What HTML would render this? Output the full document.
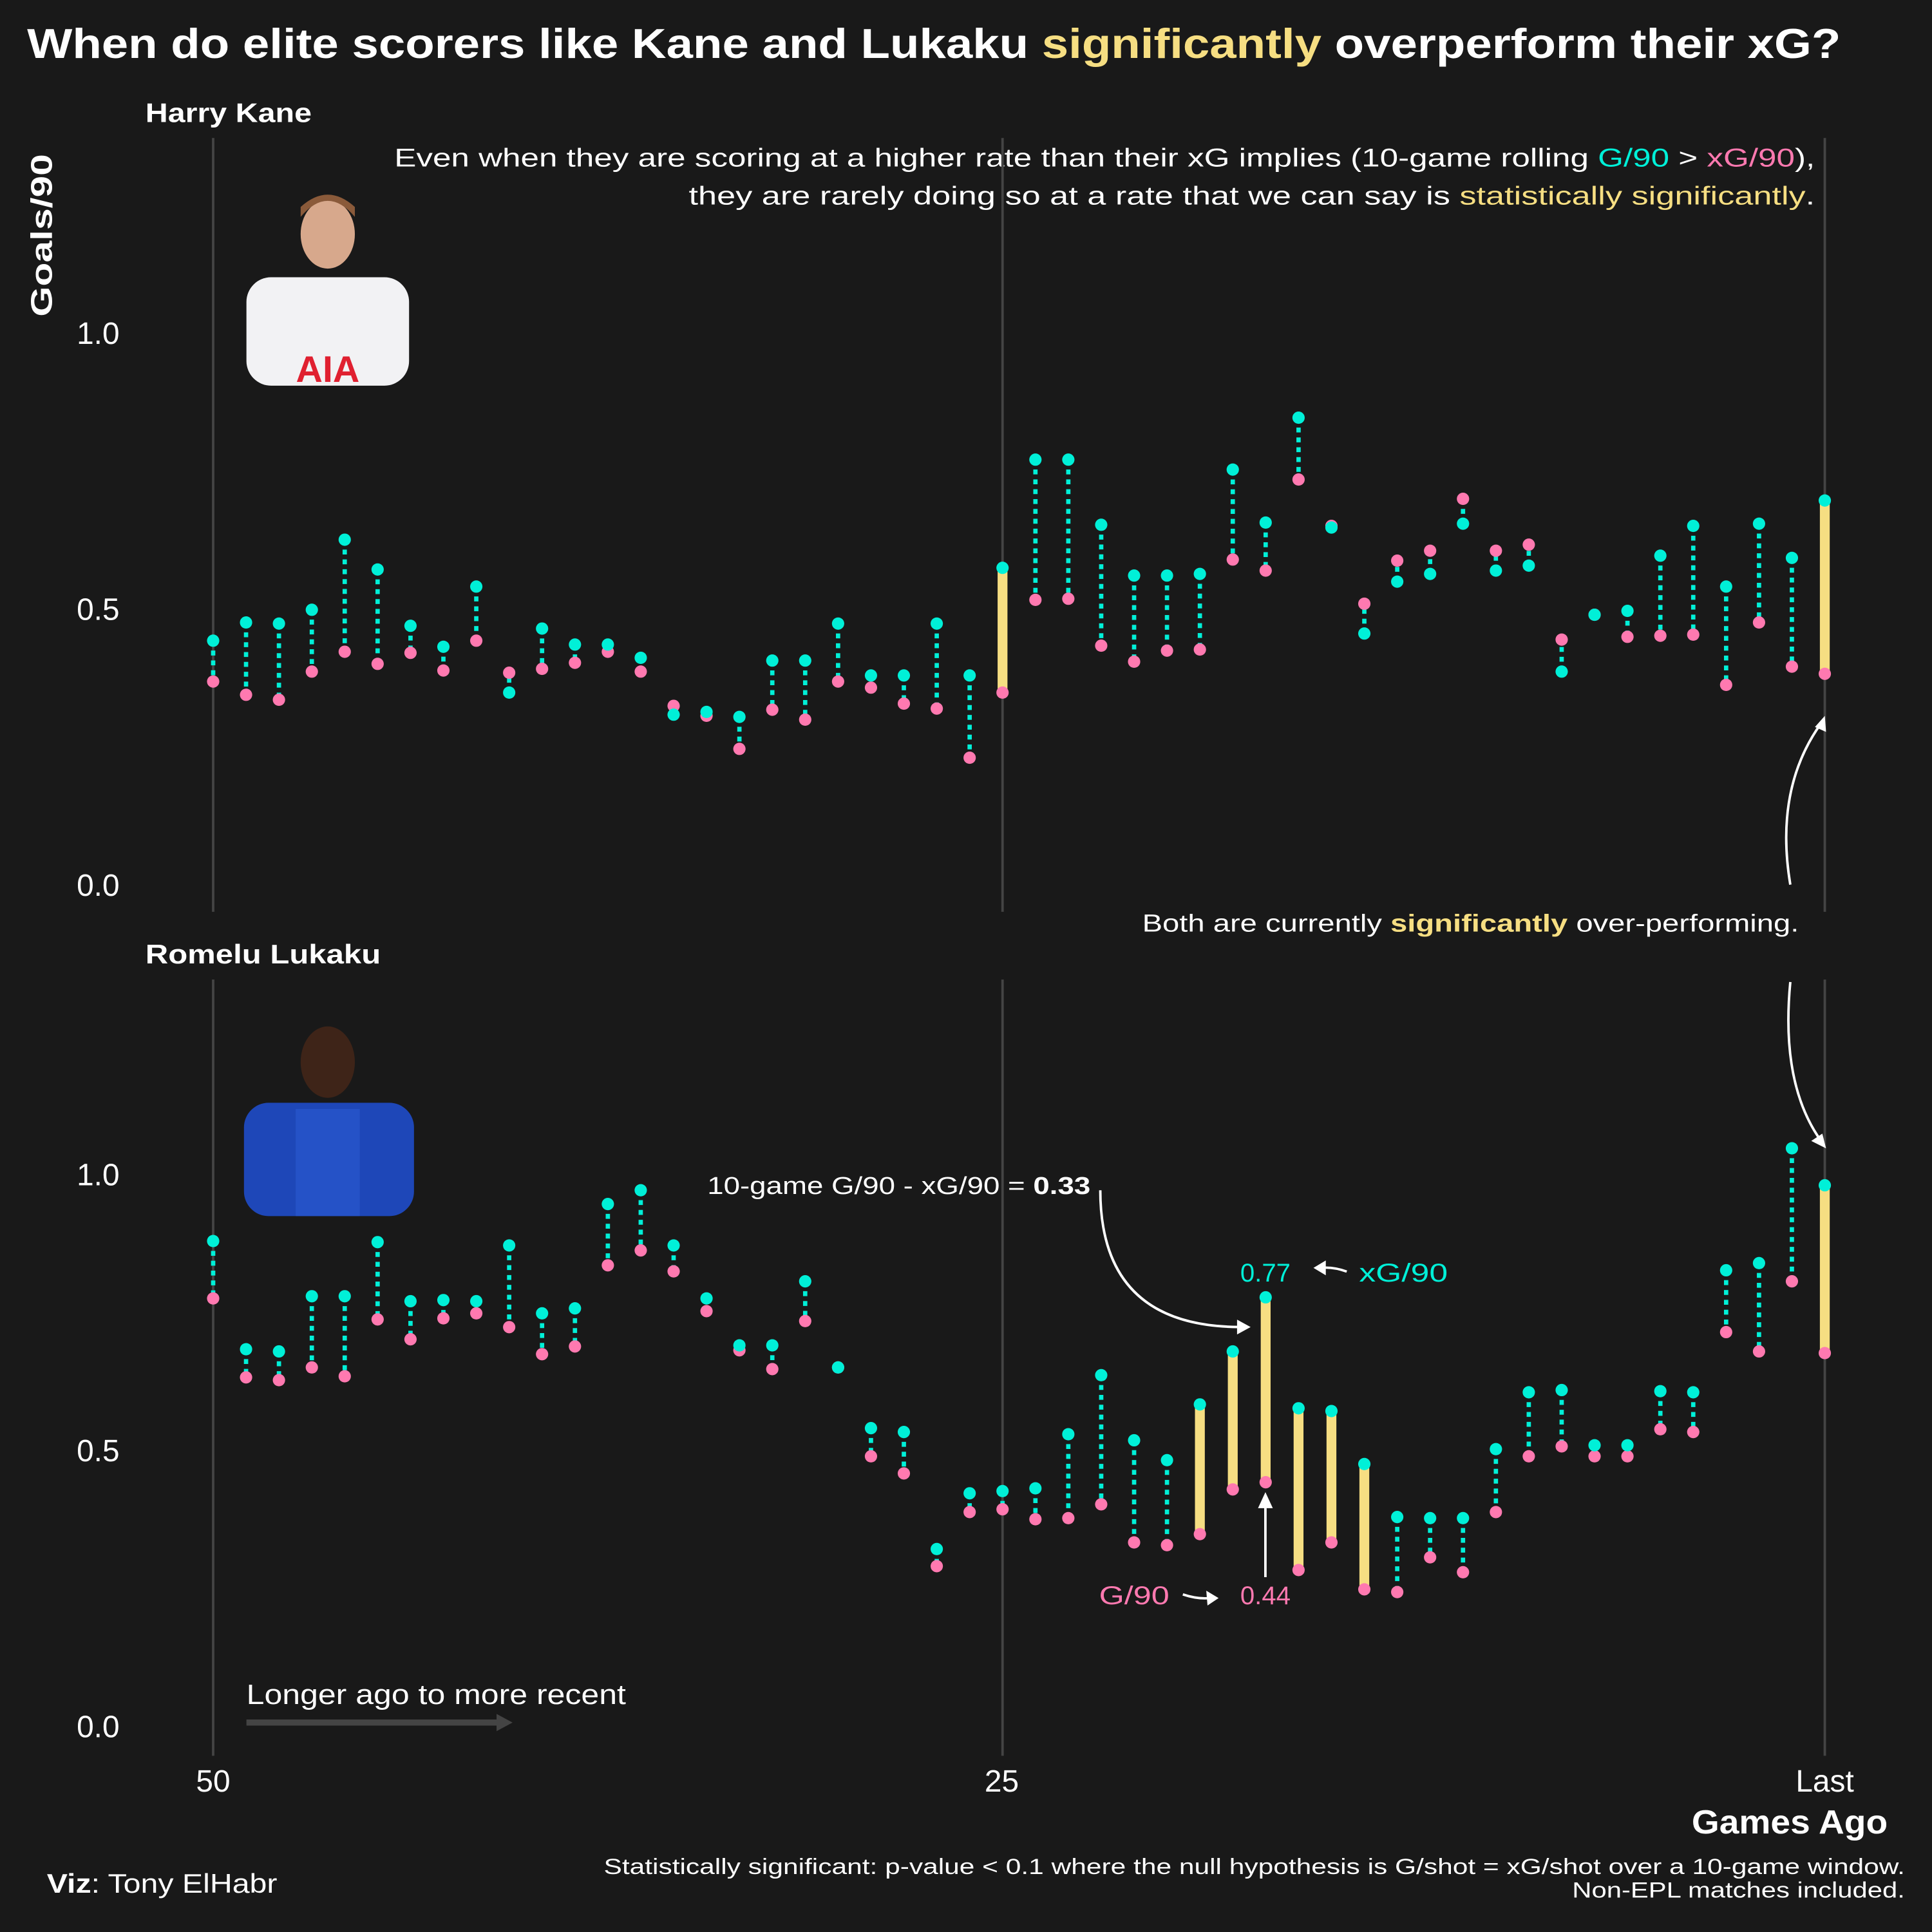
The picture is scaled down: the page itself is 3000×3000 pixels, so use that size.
<!DOCTYPE html>
<html><head><meta charset="utf-8">
<style>
html,body{margin:0;padding:0;background:#191919;}
svg{display:block;}
text{font-family:"Liberation Sans",sans-serif;}
</style></head>
<body>
<svg id="chart" width="3000" height="3000" viewBox="0 0 1568 1568" xmlns="http://www.w3.org/2000/svg">
<rect x="0" y="0" width="1568" height="1568" fill="#191919"/>
<text x="22" y="47" font-size="34" font-weight="bold" fill="#ffffff" textLength="1472" lengthAdjust="spacingAndGlyphs">When do elite scorers like Kane and Lukaku <tspan fill="#f6de82">significantly</tspan> overperform their xG?</text>
<text transform="translate(42,191) rotate(-90)" text-anchor="middle" font-size="24" font-weight="bold" fill="#ffffff" textLength="132" lengthAdjust="spacingAndGlyphs">Goals/90</text>
<text x="118" y="99" font-size="22" font-weight="bold" fill="#ffffff" textLength="135" lengthAdjust="spacingAndGlyphs">Harry Kane</text>
<text x="118" y="782" font-size="22" font-weight="bold" fill="#ffffff" textLength="191" lengthAdjust="spacingAndGlyphs">Romelu Lukaku</text>
<text x="320" y="135" font-size="21" fill="#ffffff" textLength="1153" lengthAdjust="spacingAndGlyphs">Even when they are scoring at a higher rate than their xG implies (10-game rolling <tspan fill="#00f0d8">G/90</tspan> &gt; <tspan fill="#ff79b0">xG/90</tspan>),</text>
<text x="559" y="166" font-size="21" fill="#ffffff" textLength="914" lengthAdjust="spacingAndGlyphs">they are rarely doing so at a rate that we can say is <tspan fill="#f6de82">statistically significantly</tspan>.</text>

<g>
  <rect x="200" y="225" width="132" height="88" rx="20" fill="#f2f2f4"/>
  <ellipse cx="266" cy="190" rx="22" ry="28" fill="#d7a88c"/>
  <path d="M244 176 Q266 150 288 176 L288 168 Q266 148 244 168Z" fill="#8a5a3a"/>
  <text x="266" y="310" text-anchor="middle" font-size="30" font-weight="bold" fill="#e02030">AIA</text>
</g>
<g>
  <rect x="198" y="895" width="138" height="92" rx="20" fill="#1e47b8"/>
  <ellipse cx="266" cy="862" rx="22" ry="29" fill="#3e2418"/>
  <path d="M240 900 L292 900 L292 987 L240 987Z" fill="#2a5ad0" opacity="0.6"/>
</g>

<g id="panels"></g>

<text x="173" y="1454" text-anchor="middle" font-size="25" fill="#ffffff">50</text>
<text x="813" y="1454" text-anchor="middle" font-size="25" fill="#ffffff">25</text>
<text x="1481" y="1454" text-anchor="middle" font-size="25" fill="#ffffff">Last</text>
<text x="1373" y="1488" font-size="27" font-weight="bold" fill="#ffffff" textLength="159" lengthAdjust="spacingAndGlyphs">Games Ago</text>

<text x="200" y="1383" font-size="23" fill="#ffffff" textLength="308" lengthAdjust="spacingAndGlyphs">Longer ago to more recent</text>
<line x1="200" y1="1398" x2="405" y2="1398" stroke="#444" stroke-width="5"/>
<path d="M403 1391 L416 1398 L403 1405Z" fill="#444"/>

<text x="927" y="756" font-size="20" fill="#ffffff" textLength="533" lengthAdjust="spacingAndGlyphs">Both are currently <tspan fill="#f6de82" font-weight="bold">significantly</tspan> over-performing.</text>
<path d="M1453 718 Q1440 640 1478 587" fill="none" stroke="#fff" stroke-width="2"/>
<path d="M1481 581 L1482 594 L1473 590Z" fill="#fff"/>
<path d="M1453 797 Q1445 880 1478 926" fill="none" stroke="#fff" stroke-width="2"/>
<path d="M1482 932 L1470 926 L1479 920Z" fill="#fff"/>

<text x="574" y="969" font-size="20" fill="#ffffff" textLength="311" lengthAdjust="spacingAndGlyphs">10-game G/90 - xG/90 = <tspan font-weight="bold">0.33</tspan></text>
<path d="M893 966 Q893 1076 1005 1077" fill="none" stroke="#fff" stroke-width="2"/>
<path d="M1015 1077 L1004 1071 L1004 1083Z" fill="#fff"/>
<text x="1027" y="1040" text-anchor="middle" font-size="21" fill="#00f0d8">0.77</text>
<text x="1103" y="1040" font-size="21" fill="#00f0d8" textLength="72" lengthAdjust="spacingAndGlyphs">xG/90</text>
<path d="M1093 1032 Q1082 1028 1072 1029" fill="none" stroke="#fff" stroke-width="2"/>
<path d="M1066 1029 L1076 1023 L1076 1035Z" fill="#fff"/>
<text x="892" y="1302" font-size="21" fill="#ff79b0" textLength="57" lengthAdjust="spacingAndGlyphs">G/90</text>
<path d="M960 1294 Q972 1298 982 1297" fill="none" stroke="#fff" stroke-width="2"/>
<path d="M989 1297 L979 1291 L980 1303Z" fill="#fff"/>
<text x="1027" y="1302" text-anchor="middle" font-size="21" fill="#ff79b0">0.44</text>
<line x1="1027" y1="1280" x2="1027" y2="1222" stroke="#fff" stroke-width="2"/>
<path d="M1027 1211 L1021 1224 L1033 1224Z" fill="#fff"/>

<text x="38" y="1536" font-size="22" fill="#ffffff" textLength="187" lengthAdjust="spacingAndGlyphs"><tspan font-weight="bold">Viz</tspan>: Tony ElHabr</text>
<text x="490" y="1521" font-size="18" fill="#ffffff" textLength="1056" lengthAdjust="spacingAndGlyphs">Statistically significant: p-value &lt; 0.1 where the null hypothesis is G/shot = xG/shot over a 10-game window.</text>
<text x="1276" y="1540" font-size="18" fill="#ffffff" textLength="270" lengthAdjust="spacingAndGlyphs">Non-EPL matches included.</text>
</svg>
<script>
const kaneXg = [.442,.475,.473,.498,.625,.571,.469,.431,.540,.348,.464,.435,.435,.411,.308,.313,.304,.406,.406,.473,.379,.379,.473,.379,.574,.770,.770,.652,.560,.560,.563,.752,.656,.846,.647,.455,.549,.563,.654,.569,.578,.386,.489,.496,.596,.650,.540,.654,.592,.696];
const kaneG = [.368,.344,.335,.386,.422,.400,.420,.388,.442,.384,.391,.402,.422,.386,.324,.306,.246,.317,.299,.368,.357,.328,.319,.230,.348,.516,.518,.433,.404,.424,.426,.589,.569,.734,.650,.509,.587,.605,.699,.605,.616,.444,.489,.449,.451,.453,.362,.475,.395,.382];
const kaneSig = [24,49];
const lukXg = [.879,.683,.679,.779,.779,.877,.770,.772,.770,.871,.748,.757,.946,.971,.871,.775,.690,.690,.806,.650,.540,.533,.321,.422,.426,.431,.529,.636,.518,.482,.583,.679,.777,.576,.571,.475,.379,.377,.377,.502,.605,.609,.509,.509,.607,.605,.826,.839,1.047,.980];
const lukG = [.775,.632,.627,.650,.634,.737,.701,.739,.748,.723,.674,.688,.835,.862,.824,.752,.681,.647,.734,.650,.489,.458,.290,.388,.393,.375,.377,.402,.333,.328,.348,.429,.442,.283,.333,.248,.243,.306,.279,.388,.489,.507,.489,.489,.538,.533,.714,.679,.806,.676];
const lukSig = [30,31,32,33,34,35,49];
const yTicks = [0, 0.5, 1.0];
const yTickLabels = ["0.0","0.5","1.0"];
const gridIdx = [0,24,49];

const NS = "http://www.w3.org/2000/svg";
const root = document.getElementById('panels');
function xPos(i){ return 173 + i*(1481-173)/49; }
function mk(tag, attrs, parent){ const e=document.createElementNS(NS,tag); for(const k in attrs) e.setAttribute(k,attrs[k]); parent.appendChild(e); return e; }

function drawPanel(name, xg, g, sig, zeroY, gridTop, gridBot){
  const yPos = v => zeroY - v*448;
  const grp = mk('g',{},root);
  
  
  gridIdx.forEach(i=>{
    const l = mk('line',{x1:xPos(i),x2:xPos(i),y1:gridTop,y2:gridBot,stroke:'#444','stroke-width':2},grp);
    
    
  });
  yTicks.forEach((t,k)=>{
    const tx = mk('text',{x:97,y:yPos(t)+9,'text-anchor':'end','font-size':25,fill:'#fff'},grp);
    tx.textContent = yTickLabels[k];
    
    
  });
  xg.forEach((v,i)=>{
    const x = xPos(i), y1 = yPos(v), y2 = yPos(g[i]);
    if (sig.includes(i)) {
      const b = mk('line',{x1:x,x2:x,y1:y1,y2:y2,stroke:'#f6de82','stroke-width':8},grp);
      
      
    } else {
      const d = mk('line',{x1:x,x2:x,y1:y1,y2:y2,stroke:'#00f0d8','stroke-width':3.5,'stroke-dasharray':'4 4'},grp);
      
      
    }
    const pg = mk('circle',{cx:x,cy:y2,r:5,fill:'#ff79b0'},grp);
    
    
    const px = mk('circle',{cx:x,cy:y1,r:5,fill:'#00f0d8'},grp);
    
    
  });
}
drawPanel('kane', kaneXg, kaneG, kaneSig, 718, 112, 740);
drawPanel('lukaku', lukXg, lukG, lukSig, 1401, 795, 1425);
</script>
</body></html>
